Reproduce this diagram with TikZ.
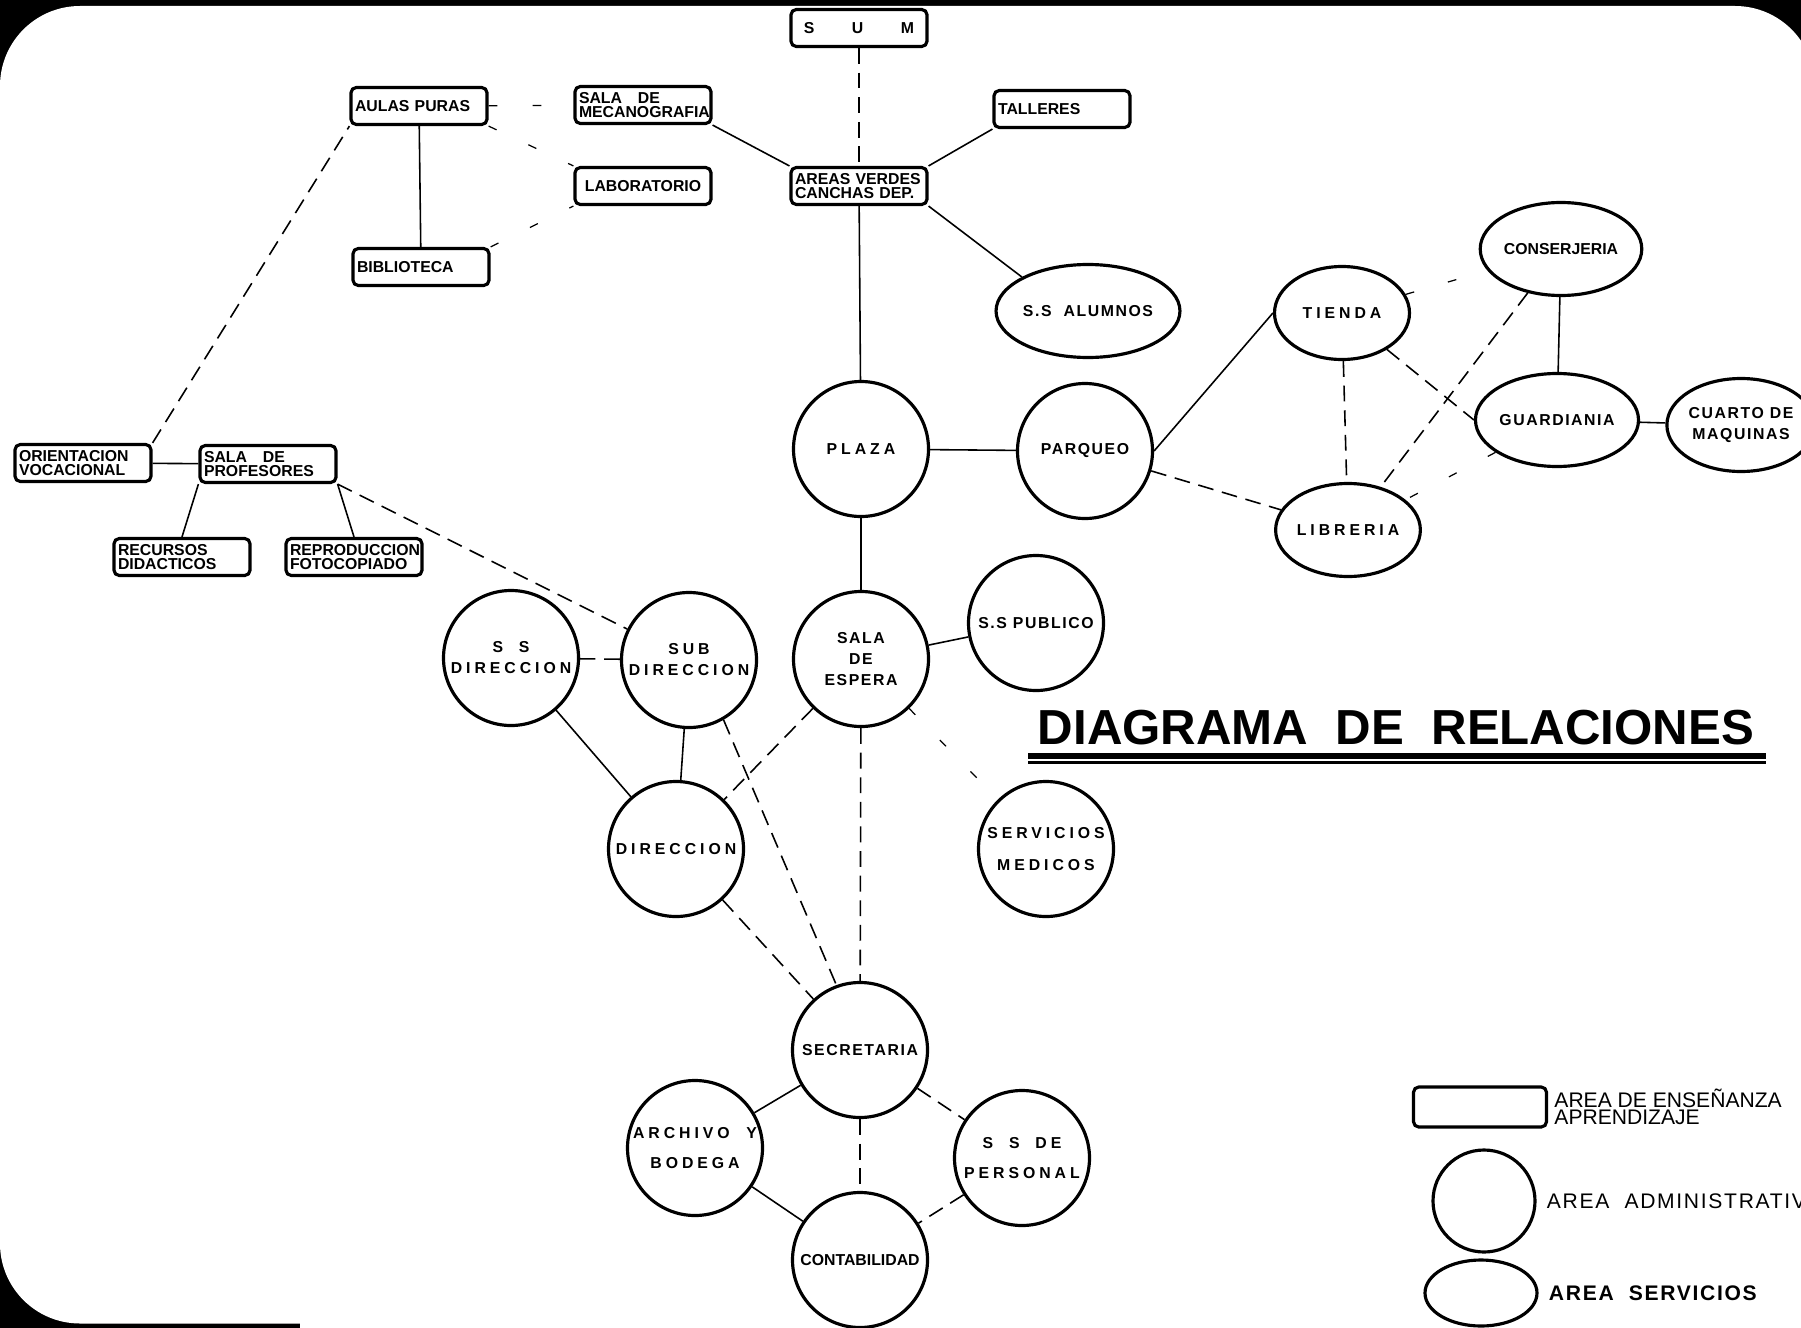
\documentclass[tikz,border=0pt]{standalone}
\usepackage{fontspec}
\setmainfont{Liberation Sans}
\usetikzlibrary{positioning,shapes.geometric}

\begin{document}
\begin{tikzpicture}[
  box/.style={
    draw,
    line width=1.8pt,
    rounded corners=3pt,
    align=left,
    text width=2.56cm,
    minimum height=0.74cm,
    inner xsep=0.08cm,
    inner ysep=1pt,
    font=\fontsize{9}{8}\selectfont\bfseries
  },
  adm/.style={circle, draw, line width=1.8pt, minimum size=2.7cm, inner sep=0pt, align=center, font=\fontsize{9}{12}\selectfont\bfseries},
  srv/.style={ellipse, draw, line width=1.8pt, minimum width=2.7cm, minimum height=1.86cm, inner sep=0pt, align=center, font=\fontsize{9}{11}\selectfont\bfseries},
  wide/.style={font=\fontsize{9}{12}\selectfont\bfseries\addfontfeature{LetterSpace=25}},
  semi/.style={font=\fontsize{9}{12}\selectfont\bfseries\addfontfeature{LetterSpace=10}},
  link/.style={line width=0.9pt},
  dlink/.style={link, dash pattern=on 9pt off 5pt},
  flink/.style={line width=0.7pt, dash pattern=on 5pt off 20pt}
]
\useasboundingbox (0,0) rectangle (36.02,-26.56);
% scanned sheet
\fill[black] (0,0) rectangle (36.02,-26.56);
\fill[white, rounded corners=1.6cm] (0,-0.12) rectangle (36.3,-26.47);
\fill[white] (6,-25) rectangle (36.02,-26.56);

% teaching areas
\node[box, align=center] (sum)      at (17.18,-0.56) {S\hskip 0.75cm U\hskip 0.75cm M};
\node[box]               (aulas)    at (8.38,-2.12)  {AULAS PURAS};
\node[box]               (mecano)   at (12.86,-2.10) {SALA\quad DE\\MECANOGRAFIA};
\node[box]               (talleres) at (21.24,-2.18) {TALLERES};
\node[box, align=center] (lab)      at (12.86,-3.72) {LABORATORIO};
\node[box]               (areas)    at (17.18,-3.72) {AREAS VERDES\\CANCHAS DEP.};
\node[box]               (biblio)   at (8.42,-5.34)  {BIBLIOTECA};
\node[box]               (orient)   at (1.66,-9.26)  {ORIENTACION\\VOCACIONAL};
\node[box]               (profes)   at (5.36,-9.28)  {SALA\quad DE\\PROFESORES};
\node[box]               (recursos) at (3.64,-11.14) {RECURSOS\\DIDACTICOS};
\node[box]               (reprod)   at (7.08,-11.14) {REPRODUCCION\\FOTOCOPIADO};

% services
\node[srv, semi] (alumnos)  at (21.76,-6.22)  {S.S\ \ ALUMNOS};
\node[srv, wide] (tienda)   at (26.84,-6.26)  {TIENDA};
\node[srv]       (conserj)  at (31.22,-4.98)  {CONSERJERIA};
\node[srv, semi] (guard)    at (31.14,-8.40)  {GUARDIANIA};
\node[srv, semi] (cuarto)   at (34.82,-8.50)  {CUARTO DE\\MAQUINAS};
\node[srv, wide] (libreria) at (26.96,-10.60) {LIBRERIA};

% administration
\node[adm, wide] (plaza)     at (17.22,-8.98)  {PLAZA};
\node[adm, semi] (parqueo)   at (21.70,-9.02)  {PARQUEO};
\node[adm, wide] (ssdir)     at (10.22,-13.16) {S\quad S\\DIRECCION};
\node[adm, wide] (subdir)    at (13.78,-13.20) {SUB\\DIRECCION};
\node[adm, semi] (espera)    at (17.22,-13.18) {SALA\\DE\\ESPERA};
\node[adm, semi] (publico)   at (20.72,-12.46) {S.S PUBLICO};
\node[adm, wide] (direccion) at (13.52,-16.98) {DIRECCION};
\node[adm, wide] (medicos)   at (20.92,-16.98) {SERVICIOS\\[6pt]MEDICOS};
\node[adm, semi] (secret)    at (17.20,-21.00) {SECRETARIA};
\node[adm, wide] (archivo)   at (13.90,-22.96) {ARCHIVO\ \ Y\\[5pt]BODEGA};
\node[adm, wide] (personal)  at (20.44,-23.16) {S\quad S\quad DE\\[5pt]PERSONAL};
\node[adm]       (contab)    at (17.20,-25.20) {CONTABILIDAD};

% title
\node[font=\fontsize{28}{30}\selectfont\bfseries] (title) at (27.92,-14.56) {DIAGRAMA\ \ DE\ \ RELACIONES};
\draw[line width=3pt] (20.56,-15.12) -- (35.32,-15.12);
\draw[line width=1.5pt] (20.56,-15.25) -- (35.32,-15.25);

% legend
\node[box, text width=2.5cm, minimum height=0.8cm] (legbox) at (29.60,-22.14) {};
\node[right=0.12cm of legbox, inner sep=0pt, align=left, font=\fontsize{12}{10}\selectfont] (legboxtxt) {AREA DE ENSEÑANZA\\APRENDIZAJE};
\node[adm, minimum size=2.04cm] (legadm) at (29.68,-24.02) {};
\node[right=0.2cm of legadm, inner sep=0pt, font=\fontsize{12}{10}\selectfont\addfontfeature{LetterSpace=8}] (legadmtxt) {AREA\ \ ADMINISTRATIVA};
\node[srv, minimum width=2.24cm, minimum height=1.32cm] (legsrv) at (29.62,-25.86) {};
\node[right=0.2cm of legsrv, inner sep=0pt, font=\fontsize{12}{10}\selectfont\bfseries\addfontfeature{LetterSpace=8}] (legsrvtxt) {AREA\ \ SERVICIOS};

\draw[dlink] (sum) -- (areas);
\draw[link] (mecano.south east) -- (areas.north west);
\draw[link] (areas.north east) -- (talleres.south west);
\draw[link] (areas.south east) -- (alumnos.north west);
\draw[link] (areas) -- (plaza);
\draw[link] (aulas) -- (biblio);
\draw[flink] (aulas) -- (mecano);
\draw[flink] (aulas.south east) -- (lab.north west);
\draw[flink] (biblio.north east) -- (lab.south west);
\draw[dlink] (orient.north east) -- (aulas.south west);
\draw[link] (orient) -- (profes);
\draw[link] (profes.south west) -- (recursos.north);
\draw[link] (profes.south east) -- (reprod.north);
\draw[dlink] (profes.south east) -- (subdir);
\draw[link] (plaza) -- (parqueo);
\draw[link] (plaza) -- (espera);
\draw[link] (parqueo.east) -- (tienda.west);
\draw[dlink] (parqueo) -- (libreria);
\draw[dlink] (tienda) -- (libreria);
\draw[flink] (tienda) -- (conserj);
\draw[dlink] (tienda) -- (guard.west);
\draw[dlink] (conserj) -- (libreria);
\draw[link] (conserj) -- (guard);
\draw[link] (guard) -- (cuarto);
\draw[flink] (guard) -- (libreria);
\draw[link] (espera) -- (publico);
\draw[flink] (espera) -- (medicos);
\draw[dlink] (espera) -- (direccion);
\draw[dlink] (espera) -- (secret);
\draw[dlink] (subdir) -- (ssdir);
\draw[link] (subdir) -- (direccion);
\draw[link] (ssdir) -- (direccion);
\draw[dlink] (subdir.-60) -- (secret.110);
\draw[dlink] (direccion) -- (secret);
\draw[link] (secret) -- (archivo);
\draw[dlink] (secret) -- (contab);
\draw[dlink] (secret) -- (personal);
\draw[link] (archivo) -- (contab);
\draw[dlink] (personal) -- (contab);
\end{tikzpicture}
\end{document}
